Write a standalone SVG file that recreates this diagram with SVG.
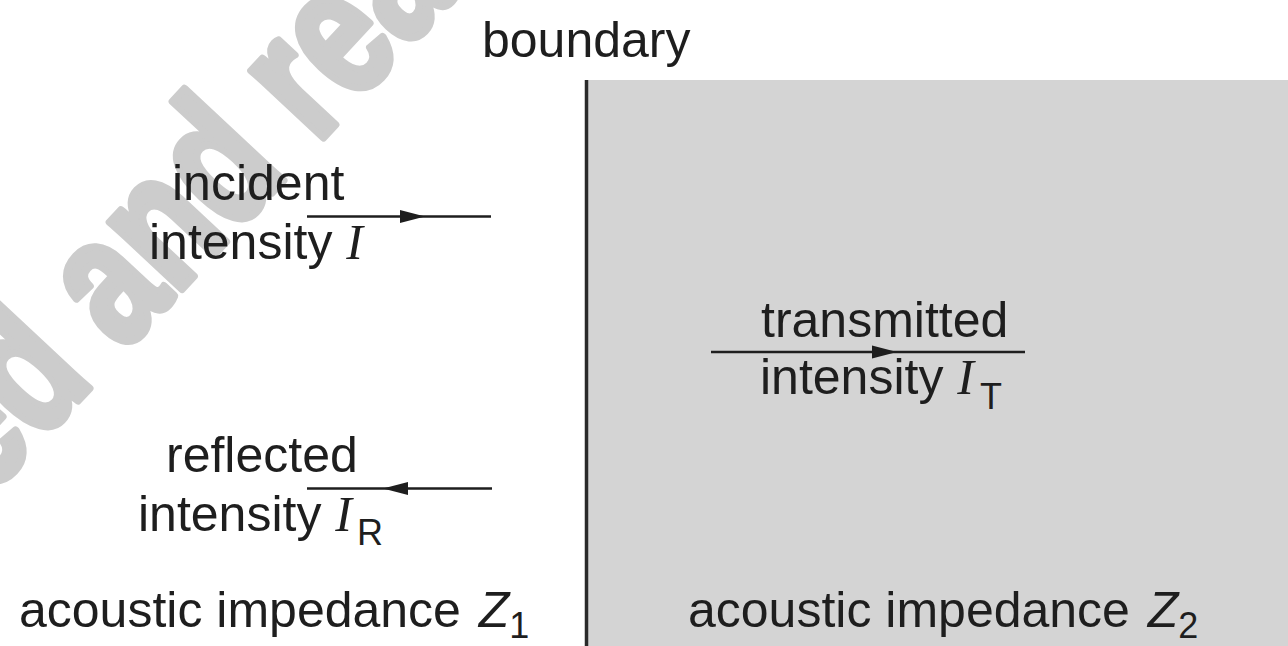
<svg xmlns="http://www.w3.org/2000/svg" xmlns:xlink="http://www.w3.org/1999/xlink" width="1288" height="646" viewBox="0 0 1288 646">
  <style>
    .t { font-family: "Liberation Sans", Arial, Helvetica, sans-serif; font-size: 50px; fill: #1e1e1e; }
    .mi { font-family: "Liberation Serif", "Times New Roman", serif; font-style: italic; }
    .zi { font-style: italic; }
    .sub { font-size: 36px; }
    .ln { stroke: #1e1e1e; stroke-width: 2.5; fill: none; }
    .wm { font-family: "Liberation Sans", Arial, sans-serif; font-weight: bold; font-size: 182px; fill: #cccccc; stroke: #cccccc; stroke-width: 8; stroke-linejoin: round; }
  </style>
  <defs>
    <path id="ah" d="M0,0 L-25,-6.5 L-25,6.5 Z" fill="#1e1e1e"/>
  </defs>
  <rect x="0" y="0" width="1288" height="646" fill="#ffffff"/>
  <g id="watermark">
    <text class="wm" transform="translate(222,246) rotate(-47) scale(0.76,1.02)" text-anchor="middle">ed and rea</text>
  </g>
  <g id="medium2">
    <rect x="588" y="80" width="700" height="566" fill="#d4d4d4"/>
  </g>
  <g id="boundary">
    <line x1="586.5" y1="80" x2="586.5" y2="646" stroke="#2a2a2a" stroke-width="3.5"/>
    <text class="t" x="482" y="57">boundary</text>
  </g>
  <g id="connectors">
    <line class="ln" x1="307" y1="216.5" x2="491" y2="216.5"/>
    <use xlink:href="#ah" transform="translate(425,216.5)"/>
    <line class="ln" x1="307" y1="488.5" x2="492" y2="488.5"/>
    <use xlink:href="#ah" transform="translate(383,488.5) rotate(180)"/>
    <line class="ln" x1="711" y1="352" x2="1025" y2="352"/>
    <use xlink:href="#ah" transform="translate(897,352)"/>
  </g>
  <g id="incident">
    <text class="t" x="172" y="200">incident</text>
    <text class="t" x="149" y="259">intensity <tspan class="mi">I</tspan></text>
  </g>
  <g id="reflected">
    <text class="t" x="166" y="472">reflected</text>
    <text class="t" x="138" y="531">intensity <tspan class="mi">I</tspan><tspan class="sub" dx="5" dy="14">R</tspan></text>
  </g>
  <g id="transmitted">
    <text class="t" x="761" y="337">transmitted</text>
    <text class="t" x="760" y="394">intensity <tspan class="mi">I</tspan><tspan class="sub" dx="6" dy="15">T</tspan></text>
  </g>
  <g id="impedance1">
    <text class="t" x="19" y="627">acoustic impedance <tspan class="zi" dx="4">Z</tspan><tspan class="sub" dy="11">1</tspan></text>
  </g>
  <g id="impedance2">
    <text class="t" x="688" y="627">acoustic impedance <tspan class="zi" dx="4">Z</tspan><tspan class="sub" dy="11">2</tspan></text>
  </g>
</svg>
